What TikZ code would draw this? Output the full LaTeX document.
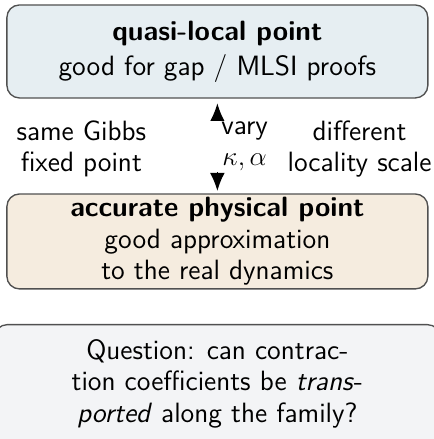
\documentclass[tikz,border=0pt]{standalone}
\usepackage{tikz}
\usetikzlibrary{arrows.meta}
\definecolor{quasiblue}{RGB}{230,238,242}
\definecolor{physbeige}{RGB}{245,236,223}
\definecolor{questgray}{RGB}{243,244,246}
\definecolor{edgegray}{RGB}{80,80,80}
\newcommand{\slidefont}{\sffamily\fontsize{12.3}{13.8}\selectfont}
\tikzset{
  pointbox/.style={draw=edgegray, line width=0.6pt, rounded corners=5.5pt, align=center,
    minimum width=6.52cm, inner sep=0pt, font=\slidefont},
  sidelabel/.style={align=center, inner sep=1pt, font=\slidefont},
}

\begin{document}
\begin{tikzpicture}
\useasboundingbox (0,0) rectangle (6.72,6.80);

\node[pointbox, fill=quasiblue, minimum height=1.44cm] (quasi) at (3.367, 6.003)
  {\textbf{quasi-local point}\\[1.5pt]good for gap / MLSI proofs};
\node[pointbox, fill=physbeige, minimum height=1.47cm] (phys) at (3.367, 3.06)
  {\textbf{accurate physical point}\\good approximation\\to the real dynamics};

\draw[line width=0.7pt, {Latex[length=8pt,width=6.5pt]}-{Latex[length=8pt,width=6.5pt]},
  shorten <=2pt, shorten >=1pt] (quasi.south) -- (phys.north);

\node[sidelabel] (gibbs) at (1.26, 4.49) {same Gibbs\\fixed point};
\node[sidelabel, fill=white, text width=1.2cm, inner ysep=0pt, minimum height=0.8cm] (vary) at (3.79, 4.53) {vary\\$\kappa,\alpha$};
\node[sidelabel] (scale) at (5.57, 4.49) {different\\locality scale};

\node[pointbox, fill=questgray, minimum width=6.90cm, minimum height=1.83cm] (quest) at (3.367, 0.856)
  {Question: can contrac-\\tion coefficients be \emph{trans}-\\\emph{ported} along the family?};
\end{tikzpicture}
\end{document}
